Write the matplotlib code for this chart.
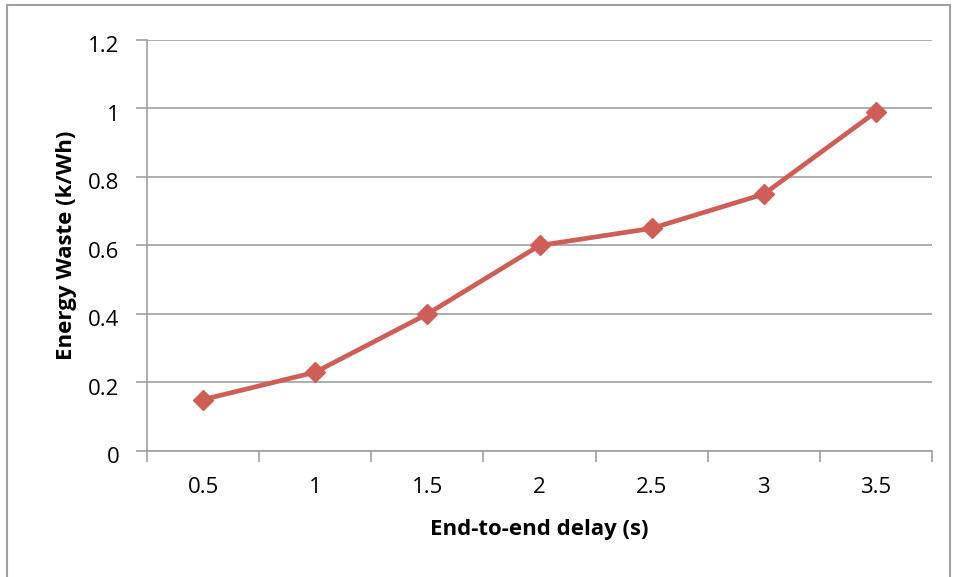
import numpy as np
import matplotlib.pyplot as plt
import matplotlib.transforms as mtransforms
from matplotlib.patches import Rectangle

delay_labels = ["0.5", "1", "1.5", "2", "2.5", "3", "3.5"]
energy_waste = [0.15, 0.23, 0.40, 0.60, 0.65, 0.75, 0.99]
y_ticks = [0, 0.2, 0.4, 0.6, 0.8, 1.0, 1.2]
y_tick_labels = ["0", "0.2", "0.4", "0.6", "0.8", "1", "1.2"]

plt.rcParams["font.family"] = ["Open Sans", "DejaVu Sans"]

fig = plt.figure(figsize=(9.57, 5.77), dpi=100)
ax = fig.add_axes([0.1536, 0.2184, 0.8203, 0.7123])

# outer chart border
fig.patches.append(Rectangle((7 / 957, -0.01), 943 / 957, 1 - 5 / 577 + 0.01,
                             transform=fig.transFigure, fill=False,
                             edgecolor="#a0a0a0", linewidth=1.5))

x = np.arange(len(delay_labels))
ax.plot(x, energy_waste, color="#cf5e59", linewidth=3.4, marker="D",
        markersize=10.5, zorder=3)

ax.set_xlim(-0.5, len(delay_labels) - 0.5)
ax.set_ylim(0, 1.2)
ax.set_yticks(y_ticks)
ax.set_yticklabels(y_tick_labels)
ax.set_xticks(x)
ax.set_xticklabels(delay_labels)
ax.set_xticks(np.arange(-0.5, len(delay_labels)), minor=True)

ax.grid(axis="y", color="#a0a0a0", linewidth=1.2)
ax.set_axisbelow(True)
for side in ["top", "right"]:
    ax.spines[side].set_visible(False)
for side in ["left", "bottom"]:
    ax.spines[side].set_color("#a0a0a0")
    ax.spines[side].set_linewidth(1.2)

ax.tick_params(axis="x", which="major", length=0, pad=19, labelsize=16)
ax.tick_params(axis="x", which="minor", length=8, color="#a0a0a0", width=1.2)
ax.tick_params(axis="y", length=8, color="#a0a0a0", width=1.2, pad=12, labelsize=16)

# excel puts the value labels a little below their gridline
shift = mtransforms.ScaledTranslation(0, -3 / 72, fig.dpi_scale_trans)
for lbl in ax.get_yticklabels():
    lbl.set_transform(lbl.get_transform() + shift)

ax.set_xlabel("End-to-end delay (s)", fontsize=16, fontweight="bold", labelpad=15)
ax.set_ylabel("Energy Waste (k/Wh)", fontsize=16, fontweight="bold", labelpad=8)

fig.savefig("out.png", dpi=100)
